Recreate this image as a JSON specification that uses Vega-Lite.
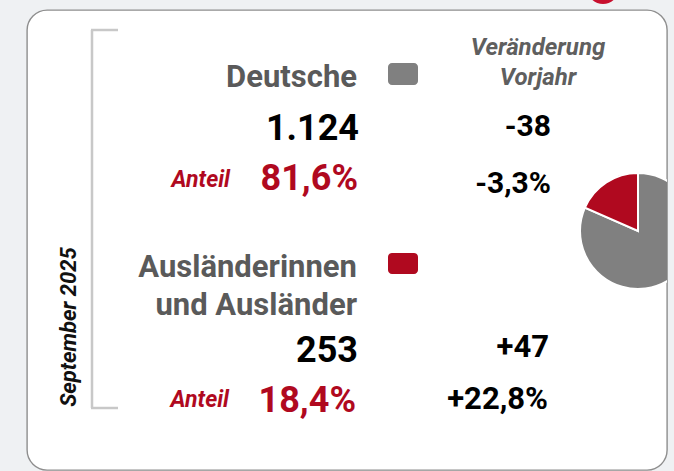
{
  "$schema": "https://vega.github.io/schema/vega-lite/v6.json",
  "autosize": "none",
  "width": 640,
  "height": 460,
  "padding": {"left": 27, "top": 10, "right": 7, "bottom": 1},
  "background": "#eff1f3",
  "config": {
    "view": {"fill": "white", "stroke": "#8e8e8e", "strokeWidth": 1.4, "cornerRadius": 20},
    "axis": {"disable": true},
    "text": {"font": "Roboto"}
  },
  "data": {
    "values": [
      {"gruppe": "Deutsche", "label": "Deutsche", "anzahl": "1.124", "anteil": "81,6%", "anteil_wert": 81.6, "diff": "-38", "diff_pct": "-3,3%"},
      {"gruppe": "Ausländer", "label": "Ausländerinnen\nund Ausländer", "anzahl": "253", "anteil": "18,4%", "anteil_wert": 18.4, "diff": "+47", "diff_pct": "+22,8%"}
    ]
  },
  "layer": [
    {
      "data": {"values": [{"kreis": "Marke"}]},
      "mark": {"type": "point", "shape": "circle", "filled": true, "color": "#c8102e", "opacity": 1, "size": 1024, "clip": false},
      "encoding": {
        "x": {"datum": 603, "scale": {"domain": [27, 667], "nice": false, "zero": false}},
        "y": {"datum": -12, "scale": {"domain": [10, 470], "reverse": true, "nice": false, "zero": false}}
      }
    },
    {
      "data": {"values": [{"klammer": "oben"}]},
      "mark": {"type": "rule", "color": "#c8c8c8", "strokeWidth": 2.5},
      "encoding": {
        "x": {"datum": 92, "scale": {"domain": [27, 667], "nice": false, "zero": false}},
        "y": {"datum": 30, "scale": {"domain": [10, 470], "reverse": true, "nice": false, "zero": false}},
        "y2": {"datum": 408}
      }
    },
    {
      "data": {"values": [{"klammer": "oben"}, {"klammer": "unten"}]},
      "mark": {"type": "rule", "color": "#c8c8c8", "strokeWidth": 2.5},
      "encoding": {
        "x": {"datum": 91, "scale": {"domain": [27, 667], "nice": false, "zero": false}},
        "x2": {"datum": 118},
        "y": {"field": "klammer", "type": "quantitative", "scale": {"domain": [10, 470], "reverse": true, "nice": false, "zero": false}}
      },
      "transform": [{"calculate": "datum.klammer == 'oben' ? 30 : 408", "as": "klammer"}]
    },
    {
      "data": {"values": [{"titel": "September 2025"}]},
      "mark": {"type": "text", "angle": 270, "align": "center", "baseline": "middle", "fontSize": 22, "fontWeight": "bold", "fontStyle": "italic", "color": "#111111"},
      "encoding": {
        "x": {"datum": 69, "scale": {"domain": [27, 667], "nice": false, "zero": false}},
        "y": {"datum": 327, "scale": {"domain": [10, 470], "reverse": true, "nice": false, "zero": false}},
        "text": {"field": "titel"}
      }
    },
    {
      "data": {"values": [{"kopf": "Veränderung\nVorjahr"}]},
      "mark": {"type": "text", "align": "center", "baseline": "alphabetic", "lineBreak": "\n", "lineHeight": 30, "fontSize": 24, "fontWeight": "bold", "fontStyle": "italic", "color": "#5f5f5f"},
      "encoding": {
        "x": {"datum": 538, "scale": {"domain": [27, 667], "nice": false, "zero": false}},
        "y": {"datum": 55, "scale": {"domain": [10, 470], "reverse": true, "nice": false, "zero": false}},
        "text": {"field": "kopf"}
      }
    },
    {
      "mark": {"type": "arc", "outerRadius": 58, "stroke": "white", "strokeWidth": 2, "clip": true},
      "encoding": {
        "theta": {"field": "anteil_wert", "type": "quantitative", "stack": true},
        "order": {"field": "anteil_wert", "sort": "descending"},
        "color": {"field": "gruppe", "type": "nominal", "scale": {"domain": ["Deutsche", "Ausländer"], "range": ["#808080", "#b0091f"]}, "legend": null},
        "x": {"datum": 638, "scale": {"domain": [27, 667], "nice": false, "zero": false}},
        "y": {"datum": 231, "scale": {"domain": [10, 470], "reverse": true, "nice": false, "zero": false}}
      }
    },
    {
      "transform": [{"filter": "datum.gruppe == 'Deutsche'"}],
      "layer": [
        {
          "mark": {"type": "text", "align": "right", "baseline": "alphabetic", "fontSize": 31, "fontWeight": "bold", "color": "#5a5a5a"},
          "encoding": {
            "x": {"datum": 357, "scale": {"domain": [27, 667], "nice": false, "zero": false}},
            "y": {"datum": 87, "scale": {"domain": [10, 470], "reverse": true, "nice": false, "zero": false}},
            "text": {"field": "label"}
          }
        },
        {
          "mark": {"type": "rect", "cornerRadius": 4},
          "encoding": {
            "x": {"datum": 388, "scale": {"domain": [27, 667], "nice": false, "zero": false}},
            "x2": {"datum": 418},
            "y": {"datum": 63, "scale": {"domain": [10, 470], "reverse": true, "nice": false, "zero": false}},
            "y2": {"datum": 85},
            "color": {"field": "gruppe", "type": "nominal", "scale": {"domain": ["Deutsche", "Ausländer"], "range": ["#808080", "#b0091f"]}, "legend": null}
          }
        },
        {
          "mark": {"type": "text", "align": "right", "baseline": "alphabetic", "fontSize": 36, "fontWeight": "bold", "color": "#000000"},
          "encoding": {
            "x": {"datum": 359, "scale": {"domain": [27, 667], "nice": false, "zero": false}},
            "y": {"datum": 140, "scale": {"domain": [10, 470], "reverse": true, "nice": false, "zero": false}},
            "text": {"field": "anzahl"}
          }
        },
        {
          "mark": {"type": "text", "text": "Anteil", "align": "right", "baseline": "alphabetic", "fontSize": 23, "fontWeight": "bold", "fontStyle": "italic", "color": "#b0091f"},
          "encoding": {
            "x": {"datum": 230, "scale": {"domain": [27, 667], "nice": false, "zero": false}},
            "y": {"datum": 187, "scale": {"domain": [10, 470], "reverse": true, "nice": false, "zero": false}}
          }
        },
        {
          "mark": {"type": "text", "align": "right", "baseline": "alphabetic", "fontSize": 36, "fontWeight": "bold", "color": "#b0091f"},
          "encoding": {
            "x": {"datum": 358, "scale": {"domain": [27, 667], "nice": false, "zero": false}},
            "y": {"datum": 190, "scale": {"domain": [10, 470], "reverse": true, "nice": false, "zero": false}},
            "text": {"field": "anteil"}
          }
        },
        {
          "mark": {"type": "text", "align": "right", "baseline": "alphabetic", "fontSize": 30, "fontWeight": "bold", "color": "#000000"},
          "encoding": {
            "x": {"datum": 551, "scale": {"domain": [27, 667], "nice": false, "zero": false}},
            "y": {"datum": 136, "scale": {"domain": [10, 470], "reverse": true, "nice": false, "zero": false}},
            "text": {"field": "diff"}
          }
        },
        {
          "mark": {"type": "text", "align": "right", "baseline": "alphabetic", "fontSize": 30, "fontWeight": "bold", "color": "#000000"},
          "encoding": {
            "x": {"datum": 551, "scale": {"domain": [27, 667], "nice": false, "zero": false}},
            "y": {"datum": 193, "scale": {"domain": [10, 470], "reverse": true, "nice": false, "zero": false}},
            "text": {"field": "diff_pct"}
          }
        }
      ]
    },
    {
      "transform": [{"filter": "datum.gruppe == 'Ausländer'"}],
      "layer": [
        {
          "mark": {"type": "text", "align": "right", "baseline": "alphabetic", "lineBreak": "\n", "lineHeight": 38, "fontSize": 31, "fontWeight": "bold", "color": "#5a5a5a"},
          "encoding": {
            "x": {"datum": 357, "scale": {"domain": [27, 667], "nice": false, "zero": false}},
            "y": {"datum": 277, "scale": {"domain": [10, 470], "reverse": true, "nice": false, "zero": false}},
            "text": {"field": "label"}
          }
        },
        {
          "mark": {"type": "rect", "cornerRadius": 4},
          "encoding": {
            "x": {"datum": 388, "scale": {"domain": [27, 667], "nice": false, "zero": false}},
            "x2": {"datum": 418},
            "y": {"datum": 253, "scale": {"domain": [10, 470], "reverse": true, "nice": false, "zero": false}},
            "y2": {"datum": 274},
            "color": {"field": "gruppe", "type": "nominal", "scale": {"domain": ["Deutsche", "Ausländer"], "range": ["#808080", "#b0091f"]}, "legend": null}
          }
        },
        {
          "mark": {"type": "text", "align": "right", "baseline": "alphabetic", "fontSize": 36, "fontWeight": "bold", "color": "#000000"},
          "encoding": {
            "x": {"datum": 358, "scale": {"domain": [27, 667], "nice": false, "zero": false}},
            "y": {"datum": 362, "scale": {"domain": [10, 470], "reverse": true, "nice": false, "zero": false}},
            "text": {"field": "anzahl"}
          }
        },
        {
          "mark": {"type": "text", "text": "Anteil", "align": "right", "baseline": "alphabetic", "fontSize": 23, "fontWeight": "bold", "fontStyle": "italic", "color": "#b0091f"},
          "encoding": {
            "x": {"datum": 229, "scale": {"domain": [27, 667], "nice": false, "zero": false}},
            "y": {"datum": 407, "scale": {"domain": [10, 470], "reverse": true, "nice": false, "zero": false}}
          }
        },
        {
          "mark": {"type": "text", "align": "right", "baseline": "alphabetic", "fontSize": 36, "fontWeight": "bold", "color": "#b0091f"},
          "encoding": {
            "x": {"datum": 356, "scale": {"domain": [27, 667], "nice": false, "zero": false}},
            "y": {"datum": 412, "scale": {"domain": [10, 470], "reverse": true, "nice": false, "zero": false}},
            "text": {"field": "anteil"}
          }
        },
        {
          "mark": {"type": "text", "align": "right", "baseline": "alphabetic", "fontSize": 31, "fontWeight": "bold", "color": "#000000"},
          "encoding": {
            "x": {"datum": 549, "scale": {"domain": [27, 667], "nice": false, "zero": false}},
            "y": {"datum": 357, "scale": {"domain": [10, 470], "reverse": true, "nice": false, "zero": false}},
            "text": {"field": "diff"}
          }
        },
        {
          "mark": {"type": "text", "align": "right", "baseline": "alphabetic", "fontSize": 31, "fontWeight": "bold", "color": "#000000"},
          "encoding": {
            "x": {"datum": 548, "scale": {"domain": [27, 667], "nice": false, "zero": false}},
            "y": {"datum": 409, "scale": {"domain": [10, 470], "reverse": true, "nice": false, "zero": false}},
            "text": {"field": "diff_pct"}
          }
        }
      ]
    }
  ]
}
